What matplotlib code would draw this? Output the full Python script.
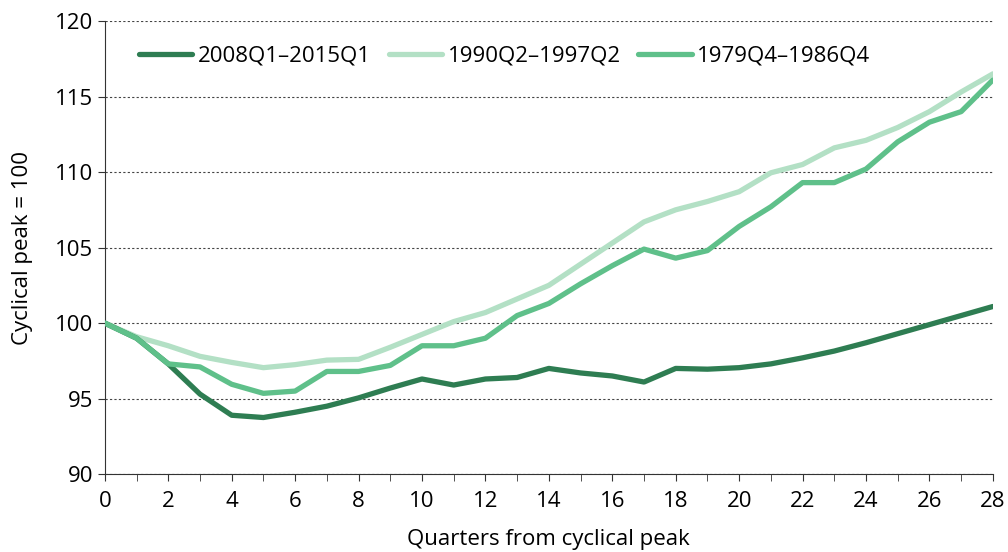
import matplotlib
matplotlib.use("Agg")
import matplotlib.pyplot as plt
from matplotlib.ticker import MultipleLocator

quarters = list(range(29))
s2008 = [100, 99.0, 97.3, 95.3, 93.9, 93.75, 94.1, 94.5, 95.05, 95.7, 96.3, 95.9, 96.3, 96.4,
         97.0, 96.7, 96.5, 96.1, 97.0, 96.95, 97.05, 97.3, 97.7, 98.15, 98.7, 99.3, 99.9, 100.5, 101.1]
s1990 = [100, 99.1, 98.5, 97.8, 97.4, 97.05, 97.25, 97.55, 97.6, 98.4, 99.25, 100.1, 100.7, 101.6,
         102.5, 103.9, 105.3, 106.7, 107.5, 108.05, 108.7, 109.95, 110.5, 111.6, 112.1, 112.95, 114.0, 115.3, 116.5]
s1979 = [100, 99.0, 97.3, 97.1, 95.95, 95.35, 95.5, 96.8, 96.8, 97.2, 98.5, 98.5, 99.0, 100.5,
         101.3, 102.6, 103.8, 104.9, 104.3, 104.8, 106.4, 107.7, 109.3, 109.3, 110.2, 112.0, 113.3, 114.0, 116.1]
labels = ["2008Q1–2015Q1", "1990Q2–1997Q2", "1979Q4–1986Q4"]

plt.rcParams['font.family'] = ['Open Sans', 'DejaVu Sans']

fig = plt.figure(figsize=(10.08, 5.52), dpi=100)
ax = fig.add_axes([0.104, 0.141, 0.881, 0.821])

ax.plot(quarters, s2008, color="#2e7d52", lw=3.8, label=labels[0], solid_capstyle="round", zorder=3)
ax.plot(quarters, s1990, color="#b3e0c5", lw=3.8, label=labels[1], solid_capstyle="round", zorder=2)
ax.plot(quarters, s1979, color="#5fc08a", lw=3.8, label=labels[2], solid_capstyle="round", zorder=3)

ax.set_xlim(0, 28)
ax.set_ylim(90, 120)
ax.xaxis.set_major_locator(MultipleLocator(2))
ax.xaxis.set_minor_locator(MultipleLocator(1))
ax.yaxis.set_major_locator(MultipleLocator(5))
ax.grid(axis="y", which="major", color="#444444", linestyle=(0, (2, 2)), linewidth=0.8)
ax.set_axisbelow(True)
for s in ["top", "right"]:
    ax.spines[s].set_visible(False)
ax.spines["left"].set_color("#333333")
ax.spines["bottom"].set_color("#333333")
ax.tick_params(axis="both", which="major", labelsize=16, direction="out", length=5, color="#333333")
ax.tick_params(axis="x", which="major", pad=7)
ax.tick_params(axis="x", which="minor", direction="out", length=5, color="#333333")
ax.set_xlabel("Quarters from cyclical peak", fontsize=16, labelpad=12)
ax.set_ylabel("Cyclical peak = 100", fontsize=16, labelpad=16)

leg = ax.legend(loc="upper left", ncol=3, frameon=False, fontsize=16, handlelength=2.4,
                handletextpad=0.25, columnspacing=0.8, bbox_to_anchor=(0.016, 0.99))

fig.savefig("out.png", dpi=100)
